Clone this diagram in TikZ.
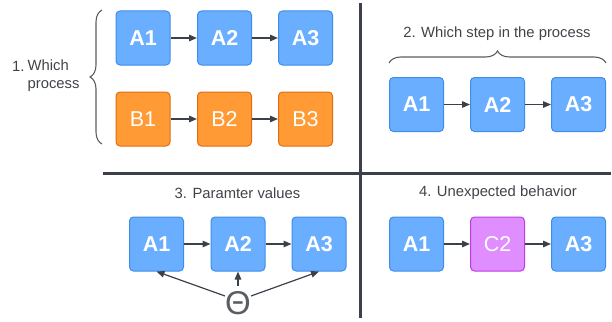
\documentclass[tikz,border=0pt]{standalone}
\usepackage{fontspec}
\setmainfont{Liberation Sans}
\usetikzlibrary{arrows.meta,decorations.pathreplacing}

\definecolor{bluefill}{HTML}{6AAEFF}
\definecolor{blueline}{HTML}{3D8EE8}
\definecolor{orangefill}{HTML}{FF9A35}
\definecolor{orangeline}{HTML}{DF6E12}
\definecolor{purplefill}{HTML}{E08DFF}
\definecolor{purpleline}{HTML}{BE3CE3}
\definecolor{ink}{HTML}{3B4049}
\definecolor{labelgray}{HTML}{3F4349}
\definecolor{bracegray}{HTML}{5A5E64}

\tikzset{
  box/.style={rounded corners=4pt, minimum width=54pt, minimum height=54pt,
    inner sep=0pt, line width=1pt, text=white, font=\fontsize{21.5}{24}\selectfont},
  bluebox/.style={box, fill=bluefill, draw=blueline, font=\fontsize{21.5}{24}\selectfont\bfseries},
  orangebox/.style={box, fill=orangefill, draw=orangeline},
  purplebox/.style={box, fill=purplefill, draw=purpleline},
  flow/.style={draw=ink, line width=1.4pt, -{Triangle[length=8pt,width=6.5pt]}},
  divider/.style={draw=ink, line width=3pt},
  caption/.style={text=labelgray, font=\fontsize{14.8}{18.5}\selectfont, inner sep=0pt},
  curly/.style={draw=bracegray, line width=1.1pt,
    decorate, decoration={brace, amplitude=12pt}},
}

\begin{document}
\begin{tikzpicture}[x=1pt, y=-1pt]
  \useasboundingbox (0,0) rectangle (612,321);

  % quadrant dividers
  \coordinate (vtop) at (360,3);
  \coordinate (vbot) at (360,318);
  \coordinate (hleft) at (103,173);
  \coordinate (hright) at (611,173);
  \draw[divider] (vtop) -- (vbot);
  \draw[divider] (hleft) -- (hright);

  % 1. which process
  \node[bluebox] (pa1) at (143,38) {A1};
  \node[bluebox] (pa2) at (224.5,38) {A2};
  \node[bluebox] (pa3) at (305.5,38) {A3};
  \node[orangebox] (pb1) at (143,119) {B1};
  \node[orangebox] (pb2) at (224.5,119) {B2};
  \node[orangebox] (pb3) at (305.5,119) {B3};
  \draw[flow] (pa1) -- (pa2);
  \draw[flow] (pa2) -- (pa3);
  \draw[flow] (pb1) -- (pb2);
  \draw[flow] (pb2) -- (pb3);
  \coordinate (lbrace bot) at (102,144);
  \coordinate (lbrace top) at (102,10);
  \draw[curly] (lbrace bot) -- (lbrace top);
  \node[caption, anchor=west] (q1num) at (12,66) {1.};
  \node[caption, anchor=west, align=left] (q1txt) at (27.5,75.5) {Which\\process};

  % 2. which step in the process
  \node[caption] (q2) at (497,34) {2. Which step in the process};
  \coordinate (tbrace left) at (389,63);
  \coordinate (tbrace right) at (606,63);
  \draw[curly] (tbrace left) -- (tbrace right);
  \node[bluebox] (sa1) at (416.5,104.5) {A1};
  \node[bluebox] (sa2) at (497.5,104.5) {A2};
  \node[bluebox] (sa3) at (578.5,104.5) {A3};
  \draw[flow] (sa1) -- (sa2);
  \draw[flow] (sa2) -- (sa3);

  % 3. parameter values
  \node[caption] (q3) at (237.5,193) {3. Paramter values};
  \node[bluebox] (va1) at (156.5,244) {A1};
  \node[bluebox] (va2) at (238,244) {A2};
  \node[bluebox] (va3) at (319,244) {A3};
  \draw[flow] (va1) -- (va2);
  \draw[flow] (va2) -- (va3);
  \node[text=bracegray, font=\fontsize{33}{33}\selectfont, inner sep=0pt]
    (theta) at (238,303.5) {Θ};
  \draw[flow, line width=1.2pt] (theta.150) -- (va1.south);
  \draw[flow, line width=1.2pt] (theta.30) -- (va3.south);
  \draw[flow, line width=1.2pt, shorten <=6pt] (theta.north) -- (va2.south);

  % 4. unexpected behavior
  \node[caption] (q4) at (498,193) {4. Unexpected behavior};
  \node[bluebox] (ua1) at (416.5,244) {A1};
  \node[purplebox] (uc2) at (497.5,244) {C2};
  \node[bluebox] (ua3) at (578.5,244) {A3};
  \draw[flow] (ua1) -- (uc2);
  \draw[flow] (uc2) -- (ua3);
\end{tikzpicture}
\end{document}
